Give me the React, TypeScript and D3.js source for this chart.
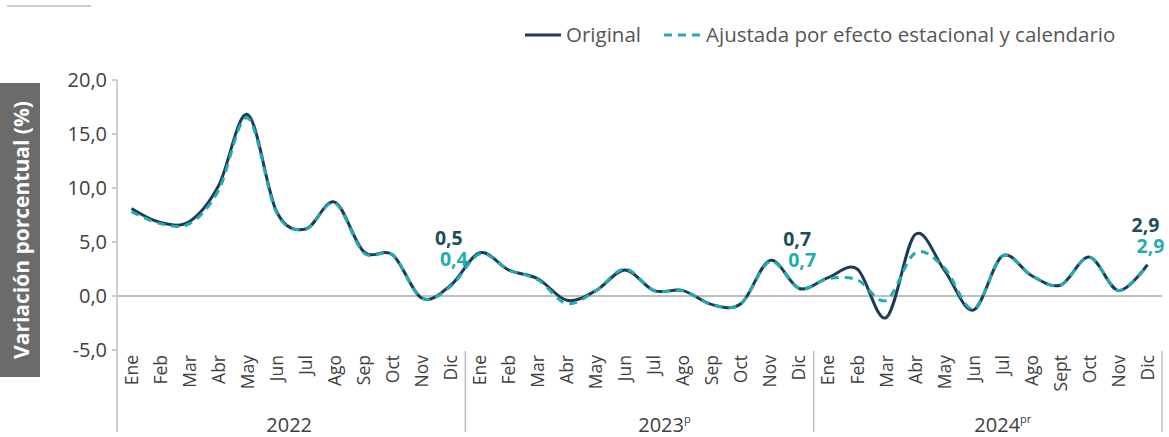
import React from "react";
import * as d3 from "d3";

const months2022 = ["Ene", "Feb", "Mar", "Abr", "May", "Jun", "Jul", "Ago", "Sep", "Oct", "Nov", "Dic"];
const months2023 = ["Ene", "Feb", "Mar", "Abr", "May", "Jun", "Jul", "Ago", "Sep", "Oct", "Nov", "Dic"];
const months2024 = ["Ene", "Feb", "Mar", "Abr", "May", "Jun", "Jul", "Ago", "Sept", "Oct", "Nov", "Dic"];

const years = ["2022", "2023", "2024"];
const yearSup = ["", "p", "pr"];

const original = [
  8.1, 6.8, 6.9, 10.2, 16.8, 7.8, 6.2, 8.7, 4.1, 3.8, -0.2, 1.0,
  4.0, 2.4, 1.6, -0.4, 0.5, 2.4, 0.5, 0.5, -0.8, -0.7, 3.3, 0.7,
  1.7, 2.5, -2.0, 5.7, 2.4, -1.3, 3.7, 1.9, 1.0, 3.6, 0.5, 2.9,
];
const adjusted = [
  7.8, 6.7, 6.7, 9.8, 16.5, 7.7, 6.2, 8.6, 4.0, 3.8, -0.2, 0.9,
  3.9, 2.4, 1.5, -0.7, 0.5, 2.5, 0.5, 0.5, -0.8, -0.7, 3.2, 0.7,
  1.6, 1.5, -0.4, 4.0, 2.6, -1.2, 3.7, 1.9, 1.0, 3.6, 0.5, 2.9,
];

const yTicks = [-5, 0, 5, 10, 15, 20];

const annIndex = [11, 23, 35];
const annOriginal = ["0,5", "0,7", "2,9"];
const annAdjusted = ["0,4", "0,7", "2,9"];
const annLevel = [4.75, 4.65, 5.9];

const legendLabels = ["Original", "Ajustada por efecto estacional y calendario"];

const DARK = "#1d3b58";
const TEAL = "#1fadb1";
const ANN_DARK = "#1a4f5b";
const TEXT = "#404040";
const GRID = "#bfbfbf";

export default function App() {
  const W = 1169;
  const H = 437;
  const x0 = 117;
  const x1 = 1162;
  const months = [...months2022, ...months2023, ...months2024];
  const idx = months.map((_, i) => i);

  const x = d3.scaleBand<number>().domain(idx).range([x0, x1]).paddingInner(0).paddingOuter(0);
  const cx = (i: number) => (x(i) as number) + x.bandwidth() / 2;
  const y = d3.scaleLinear().domain([-5, 20]).range([350, 80]);

  const line = d3
    .line<number>()
    .x((_, i) => cx(i))
    .y((d) => y(d))
    .curve(d3.curveCardinal.tension(0));

  const fmt = (v: number) => d3.format(".1f")(v).replace(".", ",").replace("−", "-");

  const yearWidth = x.bandwidth() * 12;
  const yearCenters = years.map((_, k) => x0 + yearWidth * k + yearWidth / 2);
  const yearDx = [-2, 25, 15];

  return (
    <svg
      width={W}
      height={H}
      style={{ position: "absolute", left: 0, top: 0, fontFamily: "'Open Sans', sans-serif" }}
    >
      <rect x={0} y={0} width={W} height={H} fill="#fff" />
      <line x1={7} x2={91} y1={6} y2={6} stroke="#9a9a9a" strokeWidth={1} />

      {/* Legend */}
      <g>
        <line x1={525} x2={561} y1={35} y2={35} stroke={DARK} strokeWidth={3} />
        <text x={566} y={42} fontSize={20.5} fill="#555">
          {legendLabels[0]}
        </text>
        <line x1={664} x2={700} y1={35} y2={35} stroke={TEAL} strokeWidth={3} strokeDasharray="8,6" />
        <text x={706} y={42} fontSize={20.5} fill="#555">
          {legendLabels[1]}
        </text>
      </g>

      {/* Y label box */}
      <rect x={0} y={83} width={40} height={294} fill="#6b6b6b" />
      <text
        transform={`translate(21,230) rotate(-90)`}
        textAnchor="middle"
        dominantBaseline="central"
        fontSize={21}
        fontWeight="bold"
        fill="#fff"
      >
        Variación porcentual (%)
      </text>

      {/* Y axis */}
      <line x1={x0} x2={x0} y1={y(20)} y2={432} stroke={GRID} strokeWidth={1.5} />
      {yTicks.map((t) => (
        <g key={t}>
          <line x1={x0 - 5} x2={x0} y1={y(t)} y2={y(t)} stroke={GRID} strokeWidth={1.5} />
          <text x={x0 - 10} y={y(t)} dy="0.36em" textAnchor="end" fontSize={20} fill={TEXT}>
            {fmt(t)}
          </text>
        </g>
      ))}

      {/* zero line */}
      <line x1={x0} x2={x1} y1={y(0)} y2={y(0)} stroke={GRID} strokeWidth={2} />

      {/* year separators */}
      {[1, 2, 3].map((k) => (
        <line
          key={k}
          x1={x0 + yearWidth * k}
          x2={x0 + yearWidth * k}
          y1={351}
          y2={432}
          stroke={GRID}
          strokeWidth={1.5}
        />
      ))}

      {/* month labels */}
      {months.map((m, i) => (
        <text
          key={i}
          transform={`translate(${cx(i)},355) rotate(-90)`}
          textAnchor="end"
          dy="0.36em"
          fontSize={17.5}
          fill={TEXT}
        >
          {m}
        </text>
      ))}

      {/* year labels */}
      {years.map((yr, k) => (
        <text key={yr} x={yearCenters[k] + yearDx[k]} y={432} textAnchor="middle" fontSize={20} fill={TEXT}>
          {yr}
          {yearSup[k] ? (
            <tspan fontSize={11} dy={-9}>
              {yearSup[k]}
            </tspan>
          ) : null}
        </text>
      ))}

      {/* series */}
      <path d={line(original) || ""} fill="none" stroke={DARK} strokeWidth={3} />
      <path d={line(adjusted) || ""} fill="none" stroke={TEAL} strokeWidth={3} strokeDasharray="8,6" />

      {/* annotations */}
      {annIndex.map((ai, k) => (
        <g key={ai} fontWeight="bold" fontSize={19.5} textAnchor="middle">
          <text x={cx(ai) - 2} y={y(annLevel[k])} fill={ANN_DARK}>
            {annOriginal[k]}
          </text>
          <text x={cx(ai) + 3} y={y(annLevel[k]) + 21} fill={TEAL}>
            {annAdjusted[k]}
          </text>
        </g>
      ))}
    </svg>
  );
}
